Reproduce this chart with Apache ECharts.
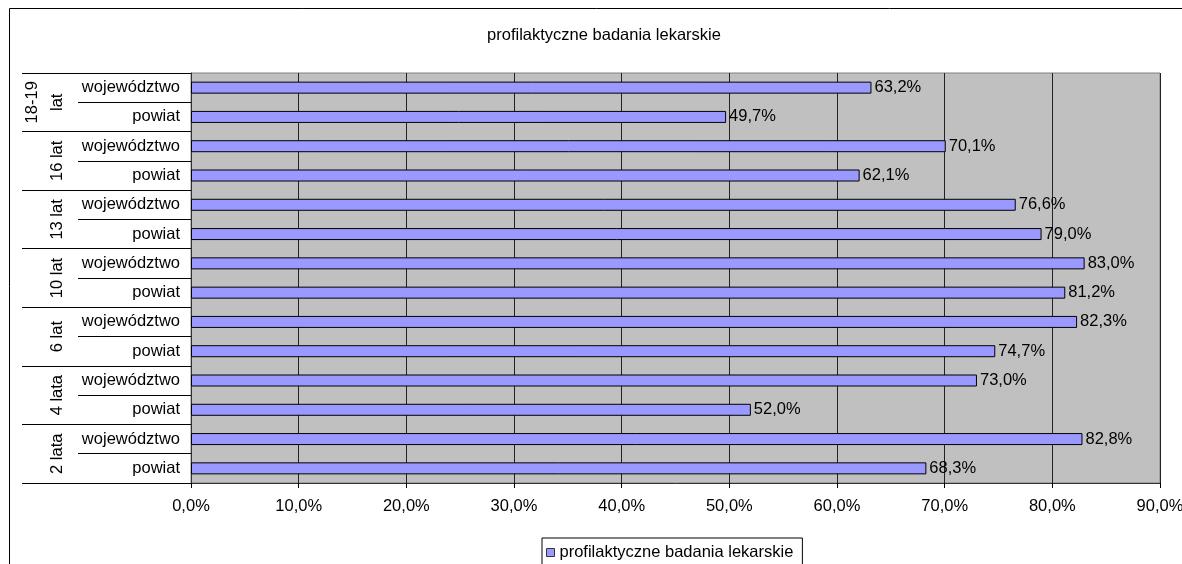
<!DOCTYPE html>
<html>
<head>
<meta charset="utf-8">
<script src="https://cdn.jsdelivr.net/npm/echarts@6/dist/echarts.min.js"></script>
<style>
html,body{margin:0;padding:0;background:#fff;}
#chart{width:1182px;height:564px;}
</style>
</head>
<body>
<div id="chart"></div>
<script>
// categories listed bottom-to-top (ECharts category order)
var subCategories = ['powiat','województwo','powiat','województwo','powiat','województwo','powiat','województwo','powiat','województwo','powiat','województwo','powiat','województwo'];
var groupCategories = ['2 lata','4 lata','6 lat','10 lat','13 lat','16 lat','18-19\nlat'];
var values = [68.3, 82.8, 52.0, 73.0, 74.7, 82.3, 81.2, 83.0, 79.0, 76.6, 62.1, 70.1, 49.7, 63.2];
var seriesName = 'profilaktyczne badania lekarskie';
var titleText = 'profilaktyczne badania lekarskie';

function pct(v){ return Number(v).toFixed(1).replace('.', ',') + '%'; }

var chart = echarts.init(document.getElementById('chart'), null, {renderer:'canvas'});
var FONT = '"Liberation Sans", Arial, sans-serif';
var FS = 16.5;
chart.setOption({
  animation: false,
  textStyle: {fontFamily: FONT},
  title: {
    text: titleText,
    left: 604, top: 27, textAlign: 'center', padding: 0,
    textStyle: {fontFamily: FONT, fontSize: FS, fontWeight: 'normal', color: '#000'}
  },
  graphic: [{
    type: 'rect', z: -10, silent: true,
    shape: {x: 9.5, y: 8.5, width: 1400, height: 800},
    style: {fill: 'none', stroke: '#000', lineWidth: 1}
  }],
  legend: {
    left: 542, top: 538,
    padding: [6, 9, 4, 4],
    borderColor: '#000', borderWidth: 1,
    itemWidth: 8, itemHeight: 8, itemGap: 4,
    icon: 'rect',
    itemStyle: {borderColor: '#333', borderWidth: 1},
    textStyle: {fontFamily: FONT, fontSize: FS, color: '#000', padding: [0,0,0,0]},
    data: [seriesName]
  },
  grid: {
    left: 191, right: 22, top: 73, bottom: 81,
    containLabel: false, outerBoundsMode: 'none',
    show: true, backgroundColor: '#c0c0c0', borderColor: '#808080', borderWidth: 1
  },
  xAxis: {
    type: 'value', min: 0, max: 90, interval: 10,
    axisLine: {show: true, lineStyle: {color: '#333'}},
    axisTick: {show: true, length: 5, lineStyle: {color: '#000'}},
    axisLabel: {margin: 15, fontFamily: FONT, fontSize: FS, color: '#000', formatter: pct},
    splitLine: {show: true, lineStyle: {color: '#222', width: 1}}
  },
  yAxis: [{
    type: 'category', data: subCategories, position: 'left',
    axisLine: {show: true, lineStyle: {color: '#333'}},
    axisTick: {show: true, length: 113, interval: 0, lineStyle: {color: '#000'}},
    axisLabel: {margin: 11, fontFamily: FONT, fontSize: FS, color: '#000', interval: 0}
  }, {
    type: 'category', data: groupCategories, position: 'left',
    axisLine: {show: false},
    axisTick: {show: true, length: 169, interval: 0, lineStyle: {color: '#000'}},
    axisLabel: {rotate: 90, margin: 121, lineHeight: 25, fontFamily: FONT, fontSize: FS, color: '#000', interval: 0},
    splitLine: {show: false}
  }],
  series: [{
    name: seriesName, type: 'bar', yAxisIndex: 0,
    data: values, barWidth: 12,
    itemStyle: {color: '#9999ff', borderColor: '#000', borderWidth: 1},
    label: {show: true, position: 'right', distance: 3, fontFamily: FONT, fontSize: FS, color: '#000', formatter: function(p){ return pct(p.value); }}
  }]
});
</script>
</body>
</html>
